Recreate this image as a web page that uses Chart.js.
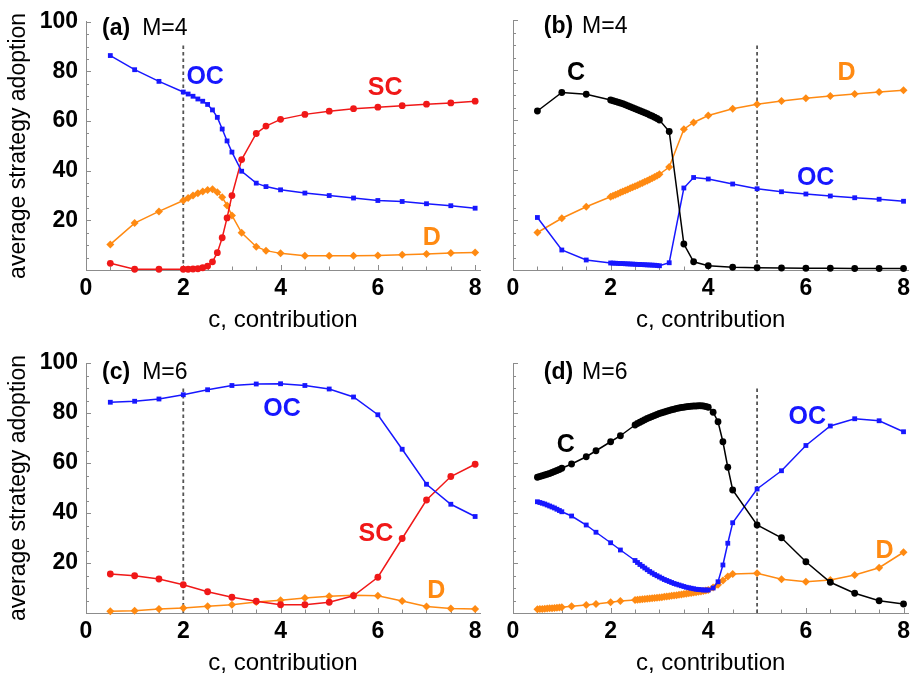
<!DOCTYPE html>
<html>
<head>
<meta charset="utf-8">
<script src="https://cdn.jsdelivr.net/npm/chart.js@4.4.1/dist/chart.umd.min.js"></script>
<style>
  html, body { margin: 0; padding: 0; background: #ffffff; }
  #wrap { position: relative; width: 915px; height: 680px; overflow: hidden; }
  #wrap canvas { position: absolute; }
</style>
</head>
<body>
<div id="wrap">
  <canvas id="pa" width="492" height="340" style="left:0px;top:0px"></canvas>
  <canvas id="pb" width="423" height="340" style="left:492px;top:0px"></canvas>
  <canvas id="pc" width="492" height="340" style="left:0px;top:340px"></canvas>
  <canvas id="pd" width="423" height="340" style="left:492px;top:340px"></canvas>
</div>
<script>
// ---- axis ticks ----
const xTicks = [0, 2, 4, 6, 8];
const yTicks = [20, 40, 60, 80, 100];

// ---- (a) M=4 ----
const xA  = [0.5, 1, 1.5, 2, 2.1, 2.2, 2.3, 2.4, 2.5, 2.6, 2.7, 2.8, 2.9, 3, 3.2, 3.5, 3.7, 4, 4.5, 5, 5.5, 6, 6.5, 7, 7.5, 8];
const ocA = [86.4, 80.7, 76.0, 71.7, 70.9, 70.0, 68.9, 68.0, 66.7, 64.5, 61.5, 56.8, 52.0, 47.5, 39.8, 35.0, 33.6, 32.3, 31.0, 30.0, 29.0, 28.0, 27.6, 26.7, 25.9, 24.9];
const scA = [2.7, 0.3, 0.3, 0.3, 0.3, 0.4, 0.5, 0.9, 1.6, 3.3, 7.0, 13.0, 21.0, 30.0, 44.5, 55.0, 58.0, 60.7, 62.7, 64.0, 65.0, 65.6, 66.2, 66.8, 67.3, 68.0];
const dA  = [10.3, 18.9, 23.6, 28.0, 29.0, 30.0, 30.9, 31.6, 32.2, 32.5, 31.3, 29.3, 26.0, 22.0, 15.0, 9.4, 7.8, 6.7, 5.7, 5.7, 5.7, 5.8, 6.1, 6.4, 6.8, 7.1];

// ---- (b) M=4 ----
const xB  = [0.5, 1, 1.5, 2.00, 2.05, 2.10, 2.15, 2.20, 2.25, 2.30, 2.35, 2.40, 2.45, 2.50, 2.55, 2.60, 2.65, 2.70, 2.75, 2.80, 2.85, 2.90, 2.95, 3.00, 3.2, 3.5, 3.7, 4, 4.5, 5, 5.5, 6, 6.5, 7, 7.5, 8];
const cB  = [63.6, 71.0, 70.3, 68.0, 67.7, 67.4, 67.1, 66.8, 66.5, 66.1, 65.7, 65.3, 64.9, 64.5, 64.1, 63.7, 63.3, 62.9, 62.5, 62.0, 61.6, 61.1, 60.6, 60.0, 55.4, 10.4, 3.3, 1.7, 1.1, 0.9, 0.8, 0.7, 0.7, 0.6, 0.6, 0.6];
const dB  = [15.0, 20.7, 25.3, 29.3, 29.7, 30.1, 30.5, 31.0, 31.4, 31.8, 32.2, 32.7, 33.1, 33.5, 33.9, 34.4, 34.8, 35.3, 35.7, 36.2, 36.7, 37.2, 37.7, 38.3, 41.2, 56.3, 59.0, 61.8, 64.5, 66.3, 67.6, 68.7, 69.6, 70.4, 71.2, 71.9];
const ocB = [21.0, 8.0, 4.0, 2.8, 2.75, 2.7, 2.65, 2.6, 2.55, 2.5, 2.45, 2.4, 2.35, 2.3, 2.25, 2.2, 2.15, 2.1, 2.05, 2.0, 1.95, 1.9, 1.8, 1.7, 2.9, 32.8, 37.0, 36.4, 34.4, 32.5, 31.3, 30.4, 29.6, 28.9, 28.3, 27.5];

// ---- (c) M=6 ----
const xC  = [0.5, 1, 1.5, 2, 2.5, 3, 3.5, 4, 4.5, 5, 5.5, 6, 6.5, 7, 7.5, 8];
const ocC = [84.3, 84.7, 85.6, 87.3, 89.3, 91.0, 91.6, 91.7, 91.0, 89.6, 86.4, 79.3, 65.5, 51.5, 43.5, 38.6];
const scC = [15.6, 14.9, 13.6, 11.3, 8.5, 6.3, 4.7, 3.3, 3.3, 4.3, 6.9, 14.3, 29.8, 45.2, 54.6, 59.5];
const dC  = [0.7, 0.9, 1.6, 2.0, 2.7, 3.3, 4.4, 5.1, 6.0, 6.7, 7.1, 6.9, 4.8, 2.6, 1.8, 1.6];

// ---- (d) M=6 ----
const xD  = [0.50, 0.55, 0.60, 0.65, 0.70, 0.75, 0.80, 0.85, 0.90, 0.95, 1.00, 1.2, 1.5, 1.7, 2.0, 2.2,
             2.50, 2.55, 2.60, 2.65, 2.70, 2.75, 2.80, 2.85, 2.90, 2.95, 3.00, 3.05, 3.10, 3.15, 3.20, 3.25,
             3.30, 3.35, 3.40, 3.45, 3.50, 3.55, 3.60, 3.65, 3.70, 3.75, 3.80, 3.85, 3.90, 3.95, 4.00,
             4.1, 4.2, 4.3, 4.4, 4.5, 5, 5.5, 6, 6.5, 7, 7.5, 8];
const cD  = [54.3, 54.6, 54.9, 55.2, 55.5, 55.8, 56.2, 56.6, 57.0, 57.4, 57.9, 59.6, 62.5, 64.9, 68.5, 70.9,
             75.2, 75.8, 76.3, 76.8, 77.3, 77.8, 78.2, 78.6, 79.0, 79.4, 79.8, 80.1, 80.4, 80.7, 81.0, 81.3,
             81.5, 81.8, 82.0, 82.2, 82.3, 82.5, 82.6, 82.7, 82.8, 82.8, 82.9, 82.9, 82.8, 82.6, 82.3,
             80.3, 76.5, 68.5, 58.3, 49.2, 35.2, 30.1, 20.5, 12.3, 7.9, 4.9, 3.6];
const ocD = [44.5, 44.2, 43.9, 43.6, 43.2, 42.8, 42.4, 42.0, 41.5, 41.0, 40.5, 38.8, 35.2, 32.3, 28.1, 25.2,
             21.0, 20.2, 19.4, 18.7, 18.0, 17.3, 16.6, 16.0, 15.4, 14.9, 14.4, 13.9, 13.4, 13.0, 12.6, 12.2,
             11.8, 11.5, 11.2, 10.9, 10.6, 10.3, 10.1, 9.9, 9.7, 9.5, 9.4, 9.3, 9.2, 9.2, 9.2,
             10.0, 12.5, 19.2, 27.9, 36.1, 49.6, 56.9, 67.0, 74.8, 77.7, 76.9, 72.5];
const dD  = [1.5, 1.6, 1.6, 1.7, 1.8, 1.9, 1.9, 2.0, 2.1, 2.2, 2.3, 2.7, 3.2, 3.6, 4.3, 4.8,
             5.2, 5.3, 5.4, 5.5, 5.6, 5.7, 5.8, 5.9, 6.0, 6.1, 6.2, 6.35, 6.5, 6.6, 6.75, 6.9,
             7.0, 7.15, 7.3, 7.45, 7.6, 7.75, 7.9, 8.05, 8.2, 8.35, 8.5, 8.65, 8.8, 9.0, 9.2,
             10.2, 11.3, 13.0, 14.6, 15.6, 15.9, 13.5, 12.5, 13.2, 15.2, 18.1, 24.3];

// vertical dashed reference line positions (c) and its height
const cutA = 2, cutB = 5, cutC = 2, cutD = 5;
const cutTop = 91;

// ---- styling ----
const FONT = "'Liberation Sans', Arial, Helvetica, sans-serif";
const BLUE = '#1717ff', RED = '#f01818', ORANGE = '#ff8a12', BLACK = '#000000';
const AXIS = '#8c8c8c';
const MARK = {
  rect:    { pointStyle: 'rect',    pointRadius: 3.4 },
  circle:  { pointStyle: 'circle',  pointRadius: 3.4 },
  rectRot: { pointStyle: 'rectRot', pointRadius: 4.0 }
};

const pts = (xs, ys) => xs.map((x, i) => ({ x: x, y: ys[i] }));

function series(label, xs, ys, color, mark) {
  return Object.assign({
    label: label,
    data: pts(xs, ys),
    borderColor: color,
    backgroundColor: color,
    borderWidth: 1.5,
    pointBorderWidth: 0,
    pointHoverRadius: MARK[mark].pointRadius,
    tension: 0,
    clip: false
  }, MARK[mark]);
}

function cutLine(c) {
  return {
    label: 'cut',
    data: [{ x: c, y: 0 }, { x: c, y: cutTop }],
    borderColor: '#555555',
    borderWidth: 1.8,
    borderDash: [3.5, 3],
    pointRadius: 0,
    pointHoverRadius: 0,
    clip: false
  };
}

// inward ticks, panel tag and curve names
const decor = {
  id: 'decor',
  beforeDatasetsDraw(chart) {
    const { ctx, chartArea: a, scales: { x, y } } = chart;
    ctx.save();
    ctx.strokeStyle = AXIS;
    ctx.lineWidth = 1;
    ctx.beginPath();
    for (let v = 0; v <= 8.001; v += 0.5) {
      const px = Math.round(x.getPixelForValue(v)) + 0.5;
      const len = (Math.abs(v % 2) < 1e-6) ? 5 : 3.5;
      ctx.moveTo(px, a.bottom);
      ctx.lineTo(px, a.bottom - len);
    }
    for (let v = 0; v <= 100.001; v += 5) {
      const py = Math.round(y.getPixelForValue(v)) + 0.5;
      const len = (v % 20 === 0) ? 5 : 3;
      ctx.moveTo(a.left, py);
      ctx.lineTo(a.left + len, py);
    }
    ctx.stroke();
    ctx.restore();
  },
  afterDatasetsDraw(chart, args, o) {
    const { ctx, scales: { x, y } } = chart;
    ctx.save();
    // panel tag, e.g. "(a) M=4"
    ctx.textBaseline = 'alphabetic';
    ctx.textAlign = 'left';
    ctx.fillStyle = '#000';
    const tx = x.getPixelForValue(o.tagX);
    const ty = y.getPixelForValue(o.tagY);
    ctx.font = 'bold 23px ' + FONT;
    ctx.fillText(o.tag, tx, ty);
    const w = ctx.measureText(o.tag).width;
    ctx.font = '23px ' + FONT;
    ctx.fillText(o.sub, tx + w + o.gap, ty);
    // curve names
    ctx.textAlign = 'center';
    ctx.textBaseline = 'middle';
    ctx.font = 'bold 25px ' + FONT;
    o.labels.forEach(l => {
      ctx.fillStyle = l.color;
      ctx.fillText(l.text, x.getPixelForValue(l.x), y.getPixelForValue(l.y));
    });
    ctx.restore();
  }
};

function makePanel(id, cfg) {
  const tickFont = { family: FONT, size: 23, weight: 'bold' };
  return new Chart(document.getElementById(id), {
    type: 'line',
    data: { datasets: cfg.datasets },
    options: {
      responsive: false,
      animation: false,
      devicePixelRatio: 1,
      events: [],
      layout: { padding: { top: cfg.padTop, right: cfg.padRight, left: 0, bottom: 0 } },
      plugins: {
        legend: { display: false },
        tooltip: { enabled: false },
        decor: cfg.decor
      },
      scales: {
        x: {
          type: 'linear', min: 0, max: 8.1,
          afterBuildTicks: s => { s.ticks = xTicks.map(v => ({ value: v })); },
          afterFit: s => { s.height = cfg.xHeight; },
          grid: { display: false, drawTicks: false },
          border: { display: true, color: AXIS, width: 1 },
          ticks: { font: tickFont, color: '#000', padding: 5, maxRotation: 0, autoSkip: false },
          title: { display: true, text: 'c, contribution', font: { family: FONT, size: 24 }, color: '#000',
                   padding: { top: 0, bottom: cfg.titleBottom } }
        },
        y: {
          type: 'linear', min: 0, max: 100,
          afterBuildTicks: s => { s.ticks = yTicks.map(v => ({ value: v })); },
          afterFit: s => { s.width = cfg.yWidth; },
          grid: { display: false, drawTicks: false },
          border: { display: true, color: AXIS, width: 1 },
          ticks: { display: cfg.showY, font: tickFont, color: '#000', padding: 8, autoSkip: false },
          title: { display: cfg.showY, text: 'average strategy adoption', font: { family: FONT, size: 23 }, color: '#000',
                   padding: { top: 5, bottom: 0 } }
        }
      }
    },
    plugins: [decor]
  });
}

makePanel('pa', {
  padTop: 20, padRight: 12, xHeight: 70, yWidth: 86, showY: true, titleBottom: 5,
  datasets: [
    series('OC', xA, ocA, BLUE, 'rect'),
    series('SC', xA, scA, RED, 'circle'),
    series('D', xA, dA, ORANGE, 'rectRot'),
    cutLine(cutA)
  ],
  decor: { tag: '(a)', sub: 'M=4', tagX: 0.33, tagY: 94.8, gap: 12,
    labels: [
      { text: 'OC', x: 2.45, y: 77.6, color: BLUE },
      { text: 'SC', x: 6.15, y: 73.2, color: RED },
      { text: 'D',  x: 7.11, y: 13.0, color: ORANGE }
    ] }
});

makePanel('pb', {
  padTop: 20, padRight: 6, xHeight: 70, yWidth: 21, showY: false, titleBottom: 5,
  datasets: [
    series('C', xB, cB, BLACK, 'circle'),
    series('OC', xB, ocB, BLUE, 'rect'),
    series('D', xB, dB, ORANGE, 'rectRot'),
    cutLine(cutB)
  ],
  decor: { tag: '(b)', sub: 'M=4', tagX: 0.63, tagY: 94.8, gap: 9,
    labels: [
      { text: 'C',  x: 1.29, y: 78.8, color: BLACK },
      { text: 'D',  x: 6.83, y: 78.8, color: ORANGE },
      { text: 'OC', x: 6.2,  y: 36.8, color: BLUE }
    ] }
});

makePanel('pc', {
  padTop: 23, padRight: 12, xHeight: 67, yWidth: 86, showY: true, titleBottom: 2,
  datasets: [
    series('OC', xC, ocC, BLUE, 'rect'),
    series('SC', xC, scC, RED, 'circle'),
    series('D', xC, dC, ORANGE, 'rectRot'),
    cutLine(cutC)
  ],
  decor: { tag: '(c)', sub: 'M=6', tagX: 0.33, tagY: 93.8, gap: 12,
    labels: [
      { text: 'OC', x: 4.03, y: 81.6, color: BLUE },
      { text: 'SC', x: 5.96, y: 31.6, color: RED },
      { text: 'D',  x: 7.2,  y: 8.8,  color: ORANGE }
    ] }
});

makePanel('pd', {
  padTop: 23, padRight: 6, xHeight: 67, yWidth: 21, showY: false, titleBottom: 2,
  datasets: [
    series('C', xD, cD, BLACK, 'circle'),
    series('OC', xD, ocD, BLUE, 'rect'),
    series('D', xD, dD, ORANGE, 'rectRot'),
    cutLine(cutD)
  ],
  decor: { tag: '(d)', sub: 'M=6', tagX: 0.63, tagY: 93.8, gap: 9,
    labels: [
      { text: 'C',  x: 1.08, y: 67.2, color: BLACK },
      { text: 'OC', x: 6.03, y: 78.4, color: BLUE },
      { text: 'D',  x: 7.61, y: 24.8, color: ORANGE }
    ] }
});
</script>
</body>
</html>
